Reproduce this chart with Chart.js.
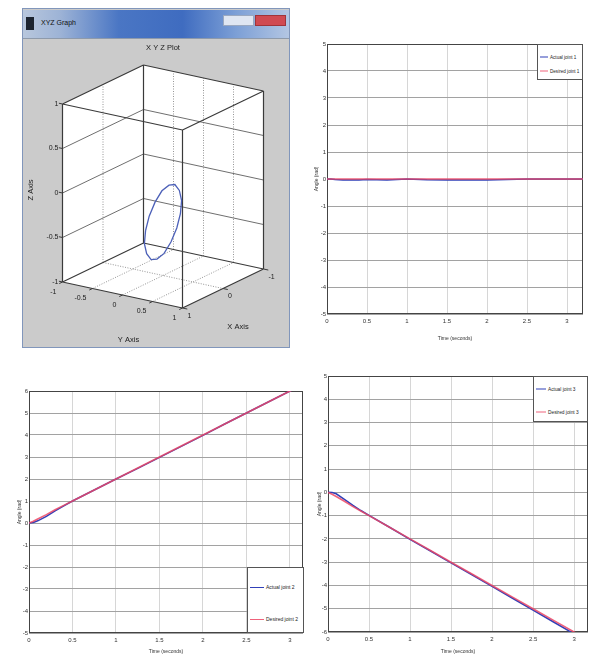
<!DOCTYPE html>
<html lang="en">
<head>
<meta charset="UTF-8">
<title>Joint trajectories</title>
<script src="https://cdn.jsdelivr.net/npm/chart.js"></script>
<style>
  body { margin: 0; background: #fff; font-family: "Liberation Sans", Arial, sans-serif; }
  #page { position: relative; width: 594px; height: 655px; overflow: hidden; }
  canvas { position: absolute; display: block; }
  #win { position: absolute; left: 22px; top: 8px; width: 268px; height: 340px; background: #cbcbcb;
         border: 1px solid #8196bb; box-sizing: border-box; }
  #titlebar { position: absolute; left: 0; top: 1px; width: 266px; height: 28px; border-bottom: 1px solid #8e9aab;
              background: linear-gradient(to right, #b8c7dd 0%, #9db3d6 14%, #4a76c4 36%, #3f6cc0 60%, #7c9fd6 80%, #b3c6e3 100%); }
  #titlebar .icon { position: absolute; left: 3px; top: 7px; width: 8px; height: 13px; background: #1c2430; }
  #titlebar .ttl { position: absolute; left: 18px; top: 9px; font-size: 7px; color: #111; }
  #titlebar .mm { position: absolute; left: 200px; top: 5px; width: 31px; height: 11px; background: #dfe6f2; border: 1px solid #9aa8c0; box-sizing: border-box; }
  #titlebar .cl { position: absolute; left: 232px; top: 5px; width: 31px; height: 11px; background: #d04a52; border: 1px solid #a0343a; box-sizing: border-box; }
  .legend { position: absolute; background: #fff; border: 1px solid #555; box-sizing: border-box; color: #222; }
  .legend .item { position: absolute; left: 2px; display: flex; align-items: center; white-space: nowrap; transform: translateY(-50%); }
  .legend .swatch { display: inline-block; height: 0; border-top: 1px solid; margin-right: 2px; }
</style>
</head>
<body>
<div id="page">
  <div id="win">
    <div id="titlebar"><span class="icon"></span><span class="ttl">XYZ Graph</span><span class="mm"></span><span class="cl"></span></div>
  </div>
  <canvas id="xyz" width="264" height="307" style="left:24px; top:38px"></canvas>
  <canvas id="joint1" width="280" height="304" style="left:313px; top:38px"></canvas>
  <canvas id="joint2" width="310" height="270" style="left:0px; top:385px"></canvas>
  <canvas id="joint3" width="284" height="285" style="left:310px; top:370px"></canvas>
</div>
<script>
// ---- data ----
const time          = [0, 0.05, 0.1, 0.2, 0.3, 0.4, 0.5, 0.75, 1, 1.25, 1.5, 1.75, 2, 2.25, 2.5, 2.75, 3, 3.2];
const actualJoint1  = [0, 0, -0.02, -0.04, -0.04, -0.04, -0.02, -0.04, 0, -0.03, -0.04, -0.04, -0.04, -0.02, 0, 0, 0, 0];
const desiredJoint1 = [0, 0, 0, 0, 0, 0, 0, 0, 0, 0, 0, 0, 0, 0, 0, 0, 0, 0];
const actualJoint2  = [0, 0.02, 0.1, 0.3, 0.55, 0.78, 1.0, 1.5, 2.0, 2.48, 2.98, 3.48, 3.98, 4.5, 5.0, 5.5, 6.0, 6.4];
const desiredJoint2 = [0, 0.08, 0.18, 0.38, 0.6, 0.8, 1.0, 1.5, 2.0, 2.5, 3.0, 3.5, 4.0, 4.5, 5.0, 5.5, 6.0, 6.4];
const actualJoint3  = [0, -0.01, -0.06, -0.3, -0.55, -0.78, -0.99, -1.5, -2.02, -2.52, -3.03, -3.53, -4.04, -4.55, -5.06, -5.57, -6.08, -6.5];
const desiredJoint3 = [0, -0.08, -0.18, -0.38, -0.6, -0.8, -1.0, -1.5, -2.0, -2.5, -3.0, -3.5, -4.0, -4.5, -5.0, -5.5, -6.0, -6.4];

const timeTicks   = [0, 0.5, 1, 1.5, 2, 2.5, 3];
const angleTicks1 = [-5, -4, -3, -2, -1, 0, 1, 2, 3, 4, 5];
const angleTicks2 = [-5, -4, -3, -2, -1, 0, 1, 2, 3, 4, 5, 6];
const angleTicks3 = [-6, -5, -4, -3, -2, -1, 0, 1, 2, 3, 4, 5];

// 3D plot: axis ticks and the end effector path
const xTicks3d = [-1, 0, 1];
const yTicks3d = [-1, -0.5, 0, 0.5, 1];
const zTicks3d = [-1, -0.5, 0, 0.5, 1];
const pathX = [0.43, 0.40, 0.30, 0.16, 0, -0.16, -0.30, -0.40, -0.43, -0.40, -0.30, -0.16, 0, 0.16, 0.30, 0.40, 0.43];
const pathY = [0, 0.04, 0.07, 0.09, 0.1, 0.09, 0.07, 0.04, 0, -0.04, -0.07, -0.09, -0.1, -0.09, -0.07, -0.04, 0];
const pathZ = [-0.40, -0.24, -0.10, 0.00, 0.03, 0.00, -0.10, -0.24, -0.40, -0.56, -0.70, -0.80, -0.83, -0.80, -0.70, -0.56, -0.40];

const blue = '#3140b8';
const red = 'rgba(236, 70, 100, 0.85)';
Chart.defaults.font.family = '"Liberation Sans", Arial, sans-serif';

// ---- 3D panel (projected onto a flat scatter) ----
function proj(x, y, z) {
  return { x: 60 * y - 40.5 * x, y: 89 * z - 13 * y - 19.5 * x };
}
function segments(pairs) {
  const out = [];
  pairs.forEach(([a, b]) => out.push(proj(...a), proj(...b), { x: null, y: null }));
  return out;
}
const inner = v => v > -1 && v < 1;

const corners = [];
[-1, 1].forEach(x => [-1, 1].forEach(y => [-1, 1].forEach(z => corners.push([x, y, z]))));
const boxEdges = [];
corners.forEach((a, i) => corners.forEach((b, j) => {
  if (j > i && a.filter((v, k) => v !== b[k]).length === 1) boxEdges.push([a, b]);
}));

const wallLines = [];
zTicks3d.filter(inner).forEach(z => {
  wallLines.push([[1, -1, z], [-1, -1, z]], [[-1, -1, z], [-1, 1, z]]);
});
const dotLines = [];
xTicks3d.filter(inner).forEach(x => {
  dotLines.push([[x, -1, -1], [x, -1, 1]], [[x, -1, -1], [x, 1, -1]]);
});
yTicks3d.filter(inner).forEach(y => {
  dotLines.push([[-1, y, -1], [-1, y, 1]], [[1, y, -1], [-1, y, -1]]);
});
const tickMarks = [];
zTicks3d.forEach(z => tickMarks.push([[1, -1, z], [1, -1.06, z]]));
yTicks3d.forEach(y => tickMarks.push([[1, y, -1], [1.08, y, -1]]));
xTicks3d.forEach(x => tickMarks.push([[x, 1, -1], [x, 1.08, -1]]));

const backdrop = [[1, -1, 1], [-1, -1, 1], [-1, 1, 1], [-1, 1, -1], [1, 1, -1], [1, -1, -1], [1, -1, 1]].map(p => proj(...p));
const pathPoints = pathX.map((x, i) => proj(x, pathY[i], pathZ[i]));

const xyzText = {
  id: 'xyzText',
  afterDatasetsDraw(chart) {
    const { ctx, scales: { x: sx, y: sy } } = chart;
    const at = (p, dx, dy) => {
      const q = proj(...p);
      return [sx.getPixelForValue(q.x) + dx, sy.getPixelForValue(q.y) + dy];
    };
    const put = (txt, [px, py], align, rot) => {
      ctx.save();
      ctx.translate(px, py);
      if (rot) ctx.rotate(rot);
      ctx.textAlign = align;
      ctx.textBaseline = 'middle';
      ctx.fillText(txt, 0, 0);
      ctx.restore();
    };
    ctx.save();
    ctx.fillStyle = '#1c1c1c';
    ctx.font = '7px "Liberation Sans", Arial, sans-serif';
    zTicks3d.forEach(z => put(String(z), at([1, -1, z], -4, 0), 'right'));
    yTicks3d.forEach(y => put(String(y), at([1, y, -1], -6, 10), 'right'));
    xTicks3d.forEach(x => put(String(x), at([x, 1, -1], 5, 8), 'left'));
    ctx.font = '7.5px "Liberation Sans", Arial, sans-serif';
    put('X Y Z Plot', [sx.getPixelForValue(0), 10], 'center');
    put('Z Axis', at([1, -1, 0], -32, -3), 'center', -Math.PI / 2);
    put('Y Axis', at([1, 0, -1], 6, 45), 'center');
    put('X Axis', at([0, 1, -1], 15, 38), 'center');
    ctx.restore();
  }
};

new Chart(document.getElementById('xyz'), {
  type: 'line',
  data: {
    datasets: [
      { data: backdrop, fill: 'shape', backgroundColor: '#ffffff', borderWidth: 0, order: 6 },
      { data: segments(dotLines), borderColor: '#8a8a8a', borderWidth: 0.9, borderDash: [1, 1.5], order: 5 },
      { data: segments(wallLines), borderColor: '#6f6f6f', borderWidth: 1, order: 4 },
      { data: segments(boxEdges), borderColor: '#3a3a3a', borderWidth: 1.2, order: 3 },
      { data: segments(tickMarks), borderColor: '#3a3a3a', borderWidth: 1, order: 2 },
      { data: pathPoints, borderColor: '#4c60b8', borderWidth: 1.3, order: 1 }
    ]
  },
  options: {
    responsive: false,
    animation: false,
    layout: { padding: 0 },
    elements: { point: { radius: 0 }, line: { tension: 0 } },
    plugins: { legend: { display: false }, tooltip: { enabled: false } },
    scales: {
      x: { type: 'linear', display: false, min: -139, max: 125 },
      y: { type: 'linear', display: false, min: -158.5, max: 148.5 }
    }
  },
  plugins: [xyzText]
});

// ---- joint angle plots ----
const frame = {
  id: 'frame',
  beforeDatasetsDraw(chart) {
    const { ctx, chartArea: a } = chart;
    ctx.save();
    ctx.strokeStyle = '#444';
    ctx.lineWidth = 1;
    ctx.strokeRect(Math.round(a.left) + 0.5, Math.round(a.top) + 0.5, Math.round(a.width) - 1, Math.round(a.height) - 1);
    ctx.restore();
  }
};

function jointChart(id, actual, desired, names, yTicks, xMax, pad, yWidth, xHeight) {
  return new Chart(document.getElementById(id), {
    type: 'line',
    data: {
      datasets: [
        { label: names[0], data: time.map((t, i) => ({ x: t, y: actual[i] })), borderColor: blue, borderWidth: 1.5, order: 2 },
        { label: names[1], data: time.map((t, i) => ({ x: t, y: desired[i] })), borderColor: red, borderWidth: 1.6, order: 1 }
      ]
    },
    options: {
      responsive: false,
      animation: false,
      layout: { padding: pad },
      elements: { point: { radius: 0 }, line: { tension: 0 } },
      plugins: { legend: { display: false }, tooltip: { enabled: false } },
      scales: {
        x: {
          type: 'linear', min: 0, max: xMax,
          afterBuildTicks: s => { s.ticks = timeTicks.map(v => ({ value: v })); },
          afterFit: s => { s.height = xHeight; },
          grid: { color: '#d6d6d6', drawTicks: false },
          border: { display: false },
          ticks: { font: { size: 6 }, color: '#333', padding: 4, maxRotation: 0, autoSkip: false, callback: v => String(v) },
          title: { display: true, text: 'Time (seconds)', font: { size: 5 }, color: '#333', padding: { top: 0, bottom: 0 } }
        },
        y: {
          type: 'linear', min: yTicks[0], max: yTicks[yTicks.length - 1],
          afterBuildTicks: s => { s.ticks = yTicks.map(v => ({ value: v })); },
          afterFit: s => { s.width = yWidth; },
          grid: { color: '#a2a2a2', drawTicks: false },
          border: { display: false },
          ticks: { font: { size: 6 }, color: '#333', padding: 1, autoSkip: false, callback: v => String(v) },
          title: { display: true, text: 'Angle (rad)', font: { size: 5 }, color: '#333', padding: { top: 1, bottom: 0 } }
        }
      }
    },
    plugins: [frame]
  });
}

function htmlLegend(chart, box) {
  const el = document.createElement('div');
  el.className = 'legend';
  Object.assign(el.style, {
    left: box.left + 'px', top: box.top + 'px', width: box.width + 'px', height: box.height + 'px', fontSize: box.font + 'px'
  });
  chart.data.datasets.forEach((ds, i) => {
    const row = document.createElement('div');
    row.className = 'item';
    row.style.top = box.rows[i] + 'px';
    const sw = document.createElement('span');
    sw.className = 'swatch';
    sw.style.width = box.swatch + 'px';
    sw.style.borderTopColor = ds.borderColor;
    const tx = document.createElement('span');
    tx.textContent = ds.label;
    row.append(sw, tx);
    el.appendChild(row);
  });
  document.getElementById('page').appendChild(el);
}

const c1 = jointChart('joint1', actualJoint1, desiredJoint1, ['Actual joint 1', 'Desired joint 1'],
  angleTicks1, 3.2, { left: 0, top: 6, right: 10, bottom: 0 }, 14, 28);
const c2 = jointChart('joint2', actualJoint2, desiredJoint2, ['Actual joint 2', 'Desired joint 2'],
  angleTicks2, 3.15, { left: 16, top: 6, right: 7, bottom: 0 }, 13, 22);
const c3 = jointChart('joint3', actualJoint3, desiredJoint3, ['Actual joint 3', 'Desired joint 3'],
  angleTicks3, 3.17, { left: 6, top: 6, right: 6, bottom: 0 }, 12, 23);

htmlLegend(c1, { left: 537, top: 44, width: 46, height: 36, font: 4.6, swatch: 8, rows: [12, 26] });
htmlLegend(c2, { left: 247, top: 567, width: 57, height: 66, font: 5, swatch: 14, rows: [19, 51] });
htmlLegend(c3, { left: 533, top: 376, width: 55, height: 46, font: 4.8, swatch: 10, rows: [12, 35] });
</script>
</body>
</html>
